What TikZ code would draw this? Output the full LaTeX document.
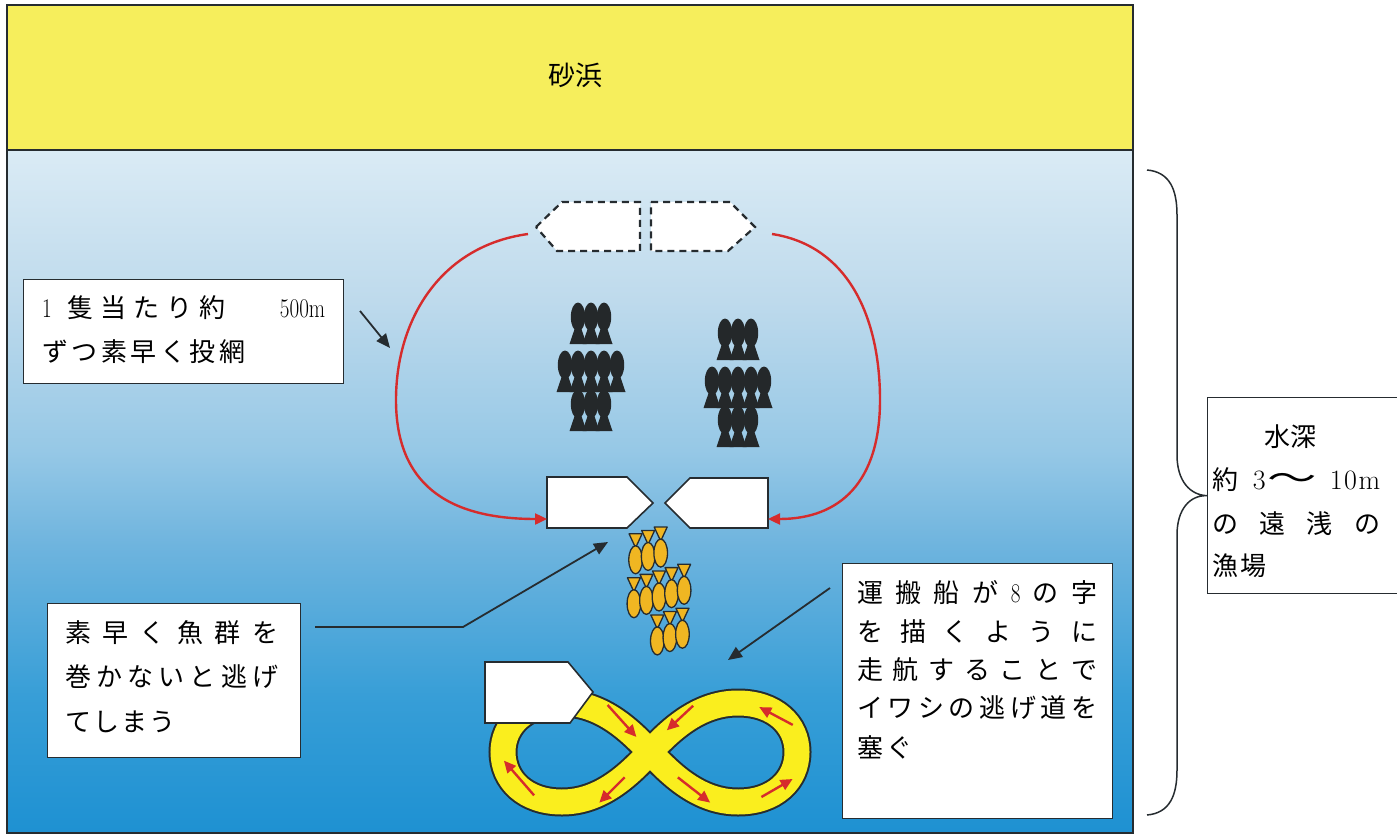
\documentclass[tikz,border=0pt]{standalone}
\usepackage{fontspec}
\newfontfamily\jp{Noto Sans CJK JP}
\usetikzlibrary{arrows.meta}

\definecolor{sand}{RGB}{246,238,92}
\definecolor{seaA}{RGB}{30,145,210}
\definecolor{seaB}{RGB}{55,158,215}
\definecolor{seaC}{RGB}{110,180,222}
\definecolor{seaD}{RGB}{150,200,230}
\definecolor{seaE}{RGB}{190,218,236}
\definecolor{seaF}{RGB}{218,235,245}
\definecolor{netred}{RGB}{214,44,44}
\definecolor{ink}{RGB}{38,44,48}
\definecolor{fishdark}{RGB}{36,40,42}
\definecolor{fishgold}{RGB}{240,182,34}
\definecolor{track}{RGB}{250,238,30}

% water: light near the beach, deep blue offshore
\pgfdeclareverticalshading{sea}{100bp}{color(0bp)=(seaA); color(25bp)=(seaA); color(35bp)=(seaB); color(46bp)=(seaC); color(53bp)=(seaD); color(64bp)=(seaE); color(75bp)=(seaF); color(100bp)=(seaF)}

% one glyph per fixed-pitch cell / glyphs spread over a given width
\ExplSyntaxOn
\NewDocumentCommand\jcells{O{30pt}m}{\tl_map_inline:nn{#2}{\makebox[#1][l]{##1}}}
\NewDocumentCommand\jspread{mm}{\makebox[#1][s]{\tl_map_inline:nn{#2}{{##1}\hfill}\unskip}}
\ExplSyntaxOff
% tall, slightly condensed Latin figures
\newcommand\ltn[1]{{\rmfamily\fontsize{27pt}{27pt}\selectfont\scalebox{0.78}[1]{#1}}}
\newcommand\ltnb[1]{{\rmfamily\fontsize{28pt}{28pt}\selectfont #1}}

\begin{document}
\begin{tikzpicture}[x=1pt,y=-1pt,
  frame/.style={draw=ink, line width=1.5pt},
  box/.style={draw=ink, line width=1.4pt, fill=white, inner sep=0pt, anchor=north west},
  txt/.style={inner sep=0pt, anchor=west, font=\jp\fontsize{26pt}{30pt}\selectfont},
  callout/.style={draw=ink, line width=1.8pt, -{Triangle[length=14pt,width=12pt]}},
  net/.style={draw=netred, line width=2.4pt, -{Triangle[length=12pt,width=11pt]}},
  flow/.style={draw=netred, line width=2.4pt, -{Triangle[length=12pt,width=11pt]}},
  boat/.style={fill=white, draw=ink, line width=1.6pt, line join=miter},
  ghost/.style={fill=white, draw=ink, line width=2.2pt, dash pattern=on 7pt off 5pt},
  brace/.style={draw=ink, line width=1.5pt},
  darkfish/.pic={
    \fill[fishdark] (0,0) ellipse [x radius=7.2pt, y radius=14.5pt];
    \fill[fishdark] (0,2) -- (-8.5,27) -- (8.5,27) -- cycle;
  },
  goldfish/.pic={
    \draw[ink, fill=fishgold, line width=1.3pt, line join=round] (-6.5,-26) -- (6.5,-26) -- (0,-12) -- cycle;
    \draw[ink, fill=fishgold, line width=1.3pt] (0,0) ellipse [x radius=6.8pt, y radius=14pt];
  },
  flowarrow/.pic={\draw[flow] (-#1/2,0) -- (#1/2,0);}
]
\useasboundingbox (0,0) rectangle (1397,837);
\fill[white] (0,0) rectangle (1397,837);

% beach and sea
\fill[sand] (7,5) rectangle (1133,150);
\shade[shading=sea] (7,150) rectangle (1133,833);
\draw[frame] (7,5) rectangle (1133,833);
\draw[frame] (7,150) -- (1133,150);
\node[inner sep=0pt, font=\jp\fontsize{27pt}{30pt}\selectfont] (beach) at (575,75) {砂浜};

% two dark schools of fish
\foreach \p in {1,2,3} \pic at ({565+13*\p},317) {darkfish};
\foreach \p in {0,...,4} \pic at ({565+13*\p},365) {darkfish};
\foreach \p in {1,2,3} \pic at ({565+13*\p},404) {darkfish};
\foreach \p in {1,2,3} \pic at ({712+13*\p},333) {darkfish};
\foreach \p in {0,...,4} \pic at ({712+13*\p},381) {darkfish};
\foreach \p in {1,2,3} \pic at ({712+13*\p},420) {darkfish};

% sardine school escaping between the boats
\begin{scope}[shift={(659,597)}, rotate=15]
  \foreach \p in {-1,0,1} \pic at (13*\p,-42) {goldfish};
  \foreach \p in {-2,...,2} \pic at (13*\p,0) {goldfish};
  \foreach \p in {-1,0,1} \pic at (13*\p,42) {goldfish};
\end{scope}

% boats before setting the net
\draw[ghost] (536,227) -- (562,202) -- (640,202) -- (640,251) -- (557,251) -- cycle;
\draw[ghost] (651,202) -- (730,202) -- (755,227) -- (728,251) -- (651,251) -- cycle;
\coordinate (netLs) at (528,234);
\coordinate (netRs) at (772,234);

% boats after setting the net
\draw[boat] (547,477) -- (627,477) -- (653,503) -- (627,528) -- (547,528) -- cycle;
\draw[boat] (665,503) -- (690,478) -- (768,478) -- (768,528) -- (690,528) -- cycle;
\coordinate (boatLw) at (547,519);
\coordinate (boatRe) at (768,519);

% the two halves of the net
\draw[net] (netLs) .. controls (440,246) and (396,320) .. (396,400) .. controls (396,482) and (445,519) .. (boatLw);
\draw[net] (netRs) .. controls (850,246) and (880,320) .. (880,400) .. controls (880,482) and (840,519) .. (boatRe);

% figure-eight course of the carrier boat (starts and ends under the boat)
\draw[draw=ink, line width=2pt, double=track, double distance=25pt, line cap=butt]
  (562,703) .. controls (525,703) and (503,725) .. (503,752)
  .. controls (503,780) and (525,802) .. (562,802)
  .. controls (600,802) and (628,776) .. (650,752)
  .. controls (672,728) and (700,703) .. (738,703)
  .. controls (775,703) and (797,725) .. (797,752)
  .. controls (797,780) and (775,802) .. (738,802)
  .. controls (700,802) and (672,776) .. (650,752)
  .. controls (628,728) and (600,703) .. (562,703);
\draw[boat] (485,662) -- (568,662) -- (593,692) -- (570,723) -- (485,723) -- cycle;
\pic[rotate=-48] at (622,721) {flowarrow=43};
\pic[rotate=-137] at (680,718) {flowarrow=36};
\pic[rotate=152] at (776,716) {flowarrow=38};
\pic[rotate=30] at (777,788) {flowarrow=36};
\pic[rotate=-38] at (694,790) {flowarrow=41};
\pic[rotate=-135] at (612,790) {flowarrow=36};
\pic[rotate=131] at (519,778) {flowarrow=46};

% note: length of net per boat
\node[box, minimum width=320pt, minimum height=104pt] (boxA) at (23,279) {};
\node[txt] (a1) at (42,308) {\makebox[283pt][s]{\ltn{1}\hspace{16pt}\jcells[33pt]{隻当たり約}\hfill\ltn{500m}}};
\node[txt] (a2) at (42,352) {\jcells[29.5pt]{ずつ素早く投網}};
\coordinate (aOut) at (360,311);
\coordinate (aTip) at (390,348);
\draw[callout] (aOut) -- (aTip);

% note: speed matters
\node[box, minimum width=253pt, minimum height=154pt] (boxB) at (47,603) {};
\node[txt] (b1) at (65,633) {\jspread{213pt}{素早く魚群を}};
\node[txt] (b2) at (65,677) {\jspread{213pt}{巻かないと逃げ}};
\node[txt] (b3) at (65,722) {\jcells[28pt]{てしまう}};
\coordinate (bOut) at (315,627);
\coordinate (bKnee) at (463,627);
\coordinate (bTip) at (608,542);
\draw[callout] (bOut) -- (bKnee) -- (bTip);

% note: the carrier boat's figure eight
\node[box, minimum width=270pt, minimum height=255pt] (boxC) at (842,563) {};
\node[txt] (c1) at (857,593) {\jspread{240pt}{運搬船が{\ltn{8}}の字}};
\node[txt] (c2) at (857,632) {\jspread{240pt}{を描くように}};
\node[txt] (c3) at (857,670) {\jspread{240pt}{走航することで}};
\node[txt] (c4) at (857,708) {\jspread{240pt}{イワシの逃げ道を}};
\node[txt] (c5) at (857,747) {\jcells[29pt]{塞ぐ}};
\coordinate (cOut) at (830,588);
\coordinate (cTip) at (728,660);
\draw[callout] (cOut) -- (cTip);

% water depth of the fishing ground
\node[box, minimum width=200pt, minimum height=196pt] (boxD) at (1207,397) {};
\node[txt] (d1) at (1264,437) {水深};
\node[txt] (d2) at (1212,480) {\makebox[168pt][s]{約\hspace{4pt}\hfill\ltnb{3}\hspace{2pt}\scalebox{1.9}[1.2]{〜}\hspace{2pt}\hfill\ltnb{1}\hspace{1.5pt}\ltnb{0}\hspace{1.5pt}\ltnb{m}}};
\node[txt] (d3) at (1212,524) {\jspread{168pt}{の遠浅の}};
\node[txt] (d4) at (1212,566) {\jcells[28pt]{漁場}};
\coordinate (brTop) at (1147,170);
\coordinate (brBot) at (1147,815);
\draw[brace] (brTop) .. controls (1170,172) and (1177,190) .. (1177,215) -- (1177,455)
  .. controls (1177,481) and (1190,495) .. (boxD.west)
  .. controls (1190,495) and (1177,509) .. (1177,535) -- (1177,770)
  .. controls (1177,795) and (1170,813) .. (brBot);
\end{tikzpicture}
\end{document}
